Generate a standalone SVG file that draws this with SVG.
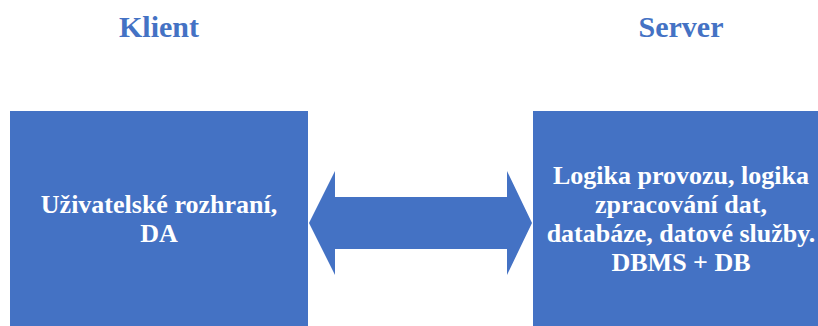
<svg xmlns="http://www.w3.org/2000/svg" width="818" height="326" viewBox="0 0 818 326">
<style>
.box{fill:#4472C4}
.title{font-family:"Liberation Serif","Times New Roman",serif;font-weight:bold;font-size:30px;fill:#4472C4;text-anchor:middle}
.lbl{font-family:"Liberation Serif","Times New Roman",serif;font-weight:bold;font-size:26px;fill:#FFFFFF;text-anchor:middle}
</style>
<rect width="818" height="326" fill="#FFFFFF"/>
<g id="klient">
<text class="title" x="159" y="37">Klient</text>
<rect class="box" x="10" y="111" width="298" height="220"/>
<text class="lbl" x="159" y="213">Uživatelské rozhraní,</text>
<text class="lbl" x="159" y="242">DA</text>
</g>
<g id="server">
<text class="title" x="681" y="37">Server</text>
<rect class="box" x="533" y="111" width="298" height="220"/>
<text class="lbl" x="681" y="184">Logika provozu, logika</text>
<text class="lbl" x="681" y="213">zpracování dat,</text>
<text class="lbl" x="681" y="242">databáze, datové služby.</text>
<text class="lbl" x="681" y="271">DBMS + DB</text>
</g>
<g id="connectors">
<polygon class="box" points="309,223 335,171 335,197 507,197 507,171 532,223 507,275 507,249 335,249 335,275"/>
</g>
</svg>
